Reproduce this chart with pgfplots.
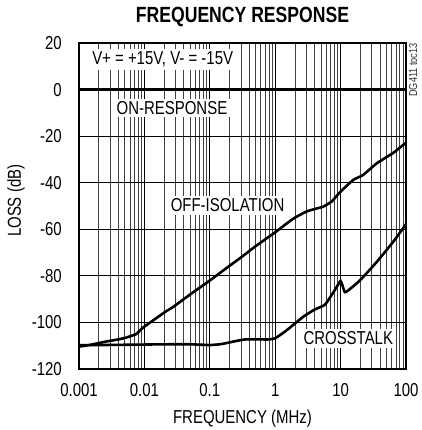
\documentclass[border=0pt]{standalone}
\usepackage{fontspec}
\setmainfont{Liberation Sans}[FakeStretch=0.8]
\usepackage{pgfplots}
\pgfplotsset{compat=1.18}
\usetikzlibrary{calc}

\begin{document}
\fontsize{18.7}{22}\selectfont
\begin{tikzpicture}
\begin{axis}[
  name=ax,
  scale only axis,
  width=327pt, height=326pt,
  xmode=log,
  xmin=0.001, xmax=100,
  ymin=-120, ymax=20,
  xtick={0.001,0.01,0.1,1,10,100},
  xticklabels={0.001,0.01,0.1,1,10,100},
  minor xtick={0.002,0.003,0.004,0.005,0.006,0.007,0.008,0.009,
               0.02,0.03,0.04,0.05,0.06,0.07,0.08,0.09,
               0.2,0.3,0.4,0.5,0.6,0.7,0.8,0.9,
               2,3,4,5,6,7,8,9,
               20,30,40,50,60,70,80,90},
  ytick={-120,-100,-80,-60,-40,-20,0,20},
  yticklabels={-120,-100,-80,-60,-40,-20,0,20},
  major tick length=0pt, minor tick length=0pt,
  xmajorgrids, xminorgrids, ymajorgrids,
  major grid style={black, line width=1pt},
  minor grid style={black!75, line width=0.65pt},
  axis line style={line width=2.4pt},
  tick label style={font=\fontsize{18.7}{22}\selectfont},
  xticklabel style={anchor=north, inner sep=0pt, yshift=-14pt},
  yticklabel style={anchor=east, inner sep=0pt, xshift=-17pt},
]
% labels with white boxes
\node[fill=white, inner sep=2.5pt, anchor=west] at (axis cs:0.00145,12.9) {V+ = +15V, V- = -15V};
\node[fill=white, inner sep=2.5pt] at (axis cs:0.0264,-7.9) {ON-RESPONSE};
\node[fill=white, inner sep=2.5pt] at (axis cs:0.187,-49.8) {OFF-ISOLATION};
\node[fill=white, inner sep=2.5pt] at (axis cs:13.1,-106.9) {CROSSTALK};

% ON-RESPONSE
\addplot[black, line width=3.2pt] coordinates {(0.001,0)(100,0)};

% OFF-ISOLATION
\addplot[black, line width=2.6pt, smooth, tension=0.3] coordinates {
  (0.001,-110.4)(0.0015,-109.6)(0.0026,-108.2)(0.004,-107.3)(0.0053,-106.5)
  (0.0075,-105)(0.0085,-103.5)(0.01,-101.8)(0.02,-95.8)(0.028,-93.2)
  (0.05,-88)(0.1,-82)(0.2,-75.7)(0.31,-71.8)(0.5,-67.3)(1,-61.3)
  (1.5,-57.5)(2,-55)(3,-52.4)(4,-51.3)(5.4,-50.3)(7.3,-48.1)(8.5,-46)
  (10,-43.8)(15.6,-38.8)(22,-36.7)(36,-31.6)(63,-27.3)(100,-22.8)
};

% CROSSTALK
\addplot[black, line width=2.6pt, smooth, tension=0.3] coordinates {
  (0.001,-109.8)(0.005,-109.6)(0.02,-109.4)(0.05,-109.4)(0.1,-109.7)
  (0.15,-109.3)(0.25,-108)(0.35,-107.3)(0.6,-107.3)(0.8,-107.3)(1,-106.8)
  (1.4,-104)(1.9,-101)(2.7,-97.5)(4,-94.5)(5.7,-92.5)(7,-89)(8.2,-86)
  (9.5,-83)(10,-82.2)(10.5,-83.5)(11.6,-87)(13,-86.3)(20,-81.8)
  (36,-73.9)(64,-65.3)(100,-57.8)
};
\end{axis}

\node[anchor=base, font=\bfseries\fontsize{22}{26}\selectfont]
  at ($(ax.north)+(0,20.3pt)$) {FREQUENCY RESPONSE};
\node[anchor=base] at ($(ax.south)+(0,-54pt)$) {FREQUENCY (MHz)};
\node[rotate=90, anchor=base] at ($(ax.south west)!0.516!(ax.north west)+(-58pt,0)$) {LOSS (dB)};
\node[rotate=90, anchor=north east, inner sep=0pt, text=black!80,
  font=\fontsize{11.5}{13}\selectfont] at ($(ax.north east)+(3pt,0)$) {DG411 toc13};

\pgfresetboundingbox
\path[use as bounding box] ($(ax.south west)+(-79pt,-61pt)$) rectangle ($(ax.north east)+(15pt,43pt)$);
\end{tikzpicture}
\end{document}
